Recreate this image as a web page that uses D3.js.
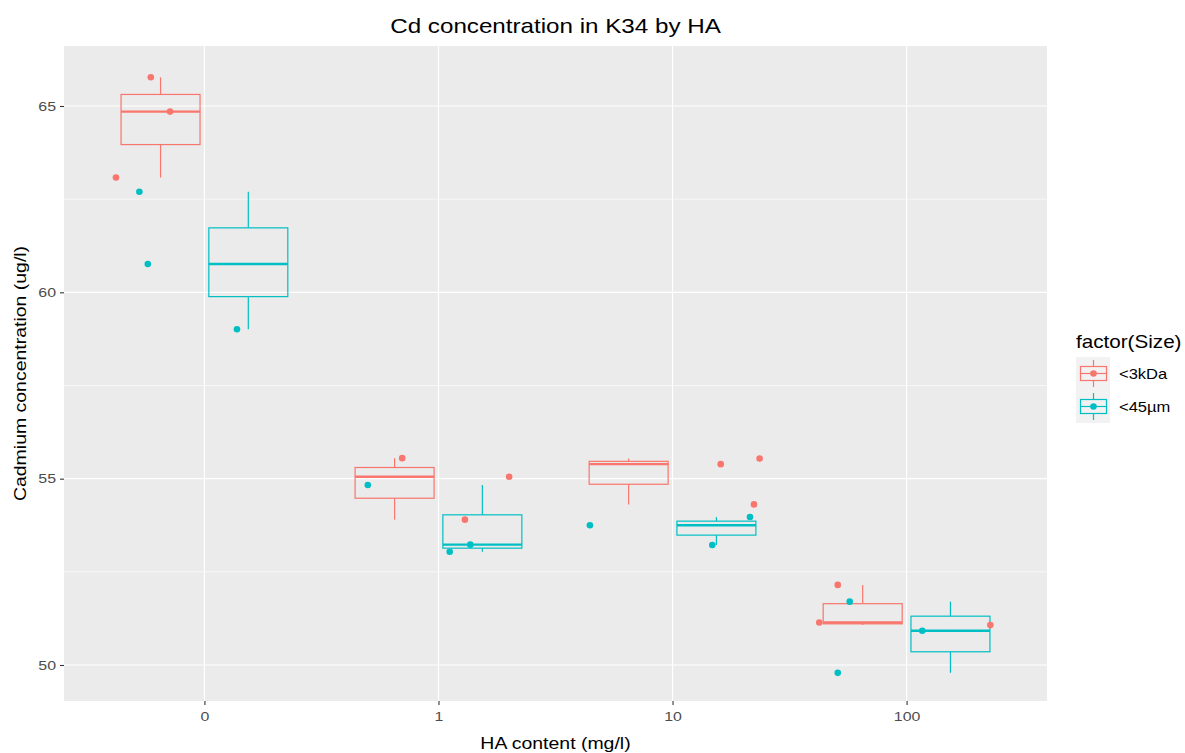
<!DOCTYPE html>
<html>
<head>
<meta charset="utf-8">
<script src="https://cdn.jsdelivr.net/npm/d3@7"></script>
<style>
  html, body { margin: 0; padding: 0; background: #ffffff; }
  svg { display: block; font-family: "Liberation Sans", Arial, sans-serif; }
</style>
</head>
<body>
<svg id="chart" width="1185" height="753"></svg>
<script>
// ---- data ----
const categories = ["0", "1", "10", "100"];
const seriesNames = ["<3kDa", "<45\u00b5m"];
const seriesColors = ["#F8766D", "#00BFC4"];
// measured values per category (3 replicates each)
const kDaValues = [[65.77, 64.85, 63.08], [55.55, 53.90, 55.05], [55.54, 55.39, 54.31], [52.15, 51.14, 51.07]];
const umValues  = [[62.70, 60.76, 59.01], [54.83, 53.04, 53.23], [53.75, 53.22, 53.97], [51.70, 49.79, 50.92]];
// horizontal jitter of each point (category units) as seen in picture
const kDaJitter = [[-0.229, -0.147, -0.378], [-0.155, 0.113, 0.302], [0.372, 0.206, 0.348], [-0.294, -0.373, 0.358]];
const umJitter  = [[-0.278, -0.242, 0.139], [-0.302, 0.048, 0.136], [-0.353, 0.170, 0.331], [-0.243, -0.294, 0.067]];
const yTicks = [50, 55, 60, 65];
const yMinor = [52.5, 57.5, 62.5];
const yDomain = [49.034, 66.61];
const titleText = "Cd concentration in K34 by HA";
const xTitle = "HA content (mg/l)";
const yTitle = "Cadmium concentration (ug/l)";
const legendTitle = "factor(Size)";

// ---- layout ----
const svg = d3.select("#chart");
const panel = { left: 64, right: 1047, top: 46, bottom: 701 };
const stretch = 1.18;

const x = d3.scalePoint().domain(categories).range([panel.left, panel.right]).padding(0.6);
const step = x.step();
const y = d3.scaleLinear().domain(yDomain).range([panel.bottom, panel.top]);

const dodge = 0.1875, boxW = 0.3375;

function sText(g, tx, ty, str, size, anchor, color, rot) {
  return g.append("text")
    .attr("transform", `translate(${tx},${ty})` + (rot ? ` rotate(${rot})` : "") + ` scale(${stretch},1)`)
    .attr("text-anchor", anchor)
    .attr("font-size", size)
    .attr("fill", color)
    .text(str);
}

// panel background
svg.append("rect").attr("x", panel.left).attr("y", panel.top)
  .attr("width", panel.right - panel.left).attr("height", panel.bottom - panel.top)
  .attr("fill", "#EBEBEB");

const grid = svg.append("g");
grid.selectAll("line.minor").data(yMinor).join("line")
  .attr("x1", panel.left).attr("x2", panel.right)
  .attr("y1", d => y(d)).attr("y2", d => y(d))
  .attr("stroke", "#ffffff").attr("stroke-width", 0.6);
grid.selectAll("line.major").data(yTicks).join("line")
  .attr("x1", panel.left).attr("x2", panel.right)
  .attr("y1", d => y(d)).attr("y2", d => y(d))
  .attr("stroke", "#ffffff").attr("stroke-width", 1.2);
grid.selectAll("line.vmajor").data(categories).join("line")
  .attr("x1", d => x(d)).attr("x2", d => x(d))
  .attr("y1", panel.top).attr("y2", panel.bottom)
  .attr("stroke", "#ffffff").attr("stroke-width", 1.2);

// ---- build groups ----
const allSeries = [
  { name: seriesNames[0], color: seriesColors[0], values: kDaValues, jitter: kDaJitter, off: -dodge },
  { name: seriesNames[1], color: seriesColors[1], values: umValues, jitter: umJitter, off: dodge }
];

const boxes = [];
const points = [];
allSeries.forEach(s => {
  categories.forEach((c, i) => {
    const vals = s.values[i].slice().sort(d3.ascending);
    const q1 = d3.quantile(vals, 0.25), med = d3.quantile(vals, 0.5), q3 = d3.quantile(vals, 0.75);
    const iqr = q3 - q1;
    const lo = d3.min(vals.filter(v => v >= q1 - 1.5 * iqr));
    const hi = d3.max(vals.filter(v => v <= q3 + 1.5 * iqr));
    boxes.push({ cx: x(c) + s.off * step, q1, med, q3, lo, hi, color: s.color });
    s.values[i].forEach((v, k) => points.push({ px: x(c) + s.jitter[i][k] * step, v, color: s.color }));
  });
});

const bw = boxW * step;
const bg = svg.append("g");
boxes.forEach(b => {
  const g = bg.append("g").attr("stroke", b.color).attr("fill", "none");
  g.append("line").attr("x1", b.cx).attr("x2", b.cx).attr("y1", y(b.hi)).attr("y2", y(b.q3)).attr("stroke-width", 1.2);
  g.append("line").attr("x1", b.cx).attr("x2", b.cx).attr("y1", y(b.q1)).attr("y2", y(b.lo)).attr("stroke-width", 1.2);
  g.append("rect").attr("x", b.cx - bw / 2).attr("y", y(b.q3)).attr("width", bw)
    .attr("height", y(b.q1) - y(b.q3)).attr("stroke-width", 1.2);
  g.append("line").attr("x1", b.cx - bw / 2).attr("x2", b.cx + bw / 2)
    .attr("y1", y(b.med)).attr("y2", y(b.med)).attr("stroke-width", 2.4);
});

svg.append("g").selectAll("circle").data(points).join("circle")
  .attr("cx", d => d.px).attr("cy", d => y(d.v)).attr("r", 3.3)
  .attr("fill", d => d.color);

// ---- axes ----
const yAxis = svg.append("g").attr("transform", `translate(${panel.left},0)`)
  .call(d3.axisLeft(y).tickValues(yTicks).tickSize(4).tickPadding(4).tickFormat(d3.format("d")));
yAxis.select(".domain").remove();
yAxis.selectAll(".tick line").attr("stroke", "#333333").attr("stroke-width", 1.1);
yAxis.selectAll(".tick text").attr("fill", "#4D4D4D").attr("font-size", 13.5)
  .attr("font-family", "Liberation Sans, Arial, sans-serif")
  .attr("transform", `translate(-8,0) scale(${stretch},1) translate(8,0)`);

const xAxis = svg.append("g").attr("transform", `translate(0,${panel.bottom})`)
  .call(d3.axisBottom(x).tickSize(4).tickPadding(6));
xAxis.select(".domain").remove();
xAxis.selectAll(".tick line").attr("stroke", "#333333").attr("stroke-width", 1.1);
xAxis.selectAll(".tick text").attr("fill", "#4D4D4D").attr("font-size", 13.5)
  .attr("font-family", "Liberation Sans, Arial, sans-serif")
  .attr("transform", `scale(${stretch},1)`);

// ---- titles ----
const tg = svg.append("g");
sText(tg, (panel.left + panel.right) / 2, 33, titleText, 20.5, "middle", "#000000");
sText(tg, (panel.left + panel.right) / 2, 749, xTitle, 16.5, "middle", "#000000");
sText(tg, 26, (panel.top + panel.bottom) / 2, yTitle, 16.5, "middle", "#000000", -90);

// ---- legend ----
const lg = svg.append("g");
sText(lg, 1076, 348, legendTitle, 17.5, "start", "#000000");
const keyX = 1076, keyW = 34, keyH = 33, keyTop = 357;
allSeries.forEach((s, i) => {
  const ky = keyTop + i * keyH;
  lg.append("rect").attr("x", keyX).attr("y", ky).attr("width", keyW).attr("height", keyH).attr("fill", "#F2F2F2");
  const cx = keyX + 17.5, cy = ky + keyH / 2;
  const g = lg.append("g").attr("stroke", s.color).attr("fill", "none").attr("stroke-width", 1.2);
  g.append("line").attr("x1", cx).attr("x2", cx).attr("y1", ky + 3).attr("y2", cy - 7);
  g.append("line").attr("x1", cx).attr("x2", cx).attr("y1", cy + 7).attr("y2", ky + keyH - 3);
  g.append("rect").attr("x", keyX + 4.5).attr("y", cy - 7).attr("width", 26).attr("height", 14);
  g.append("line").attr("x1", keyX + 4.5).attr("x2", keyX + 30.5).attr("y1", cy).attr("y2", cy);
  lg.append("circle").attr("cx", cx).attr("cy", cy).attr("r", 3.3).attr("fill", s.color);
  sText(lg, 1119, cy + 5, s.name, 14, "start", "#000000");
});
</script>
</body>
</html>
